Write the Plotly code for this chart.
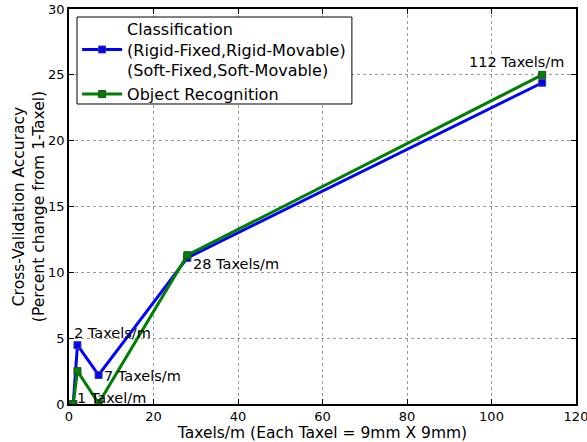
import plotly.graph_objects as go

# Sensor density (taxels per metre) and accuracy change for each task
taxels = [1, 2, 7, 28, 112]
classification = [0.0, 4.47, 2.2, 11.1, 24.4]
recognition = [0.0, 2.5, 0.05, 11.3, 25.0]
point_labels = ["1 Taxel/m", "2 Taxels/m", "7 Taxels/m", "28 Taxels/m", "112 Taxels/m"]

x_ticks = [0, 20, 40, 60, 80, 100, 120]
y_ticks = [0, 5, 10, 15, 20, 25, 30]

font = "DejaVu Sans, sans-serif"

fig = go.Figure()
fig.add_trace(go.Scatter(
    x=taxels, y=classification, mode="lines+markers",
    name="Classification<br>(Rigid-Fixed,Rigid-Movable)<br>(Soft-Fixed,Soft-Movable)",
    line=dict(color="#0000ff", width=3),
    marker=dict(symbol="square", size=7, color="#0000ff",
                line=dict(color="#3f3f7f", width=1)),
))
fig.add_trace(go.Scatter(
    x=taxels, y=recognition, mode="lines+markers",
    name="Object Recognition",
    line=dict(color="#007f00", width=3),
    marker=dict(symbol="square", size=7, color="#007f00",
                line=dict(color="#1f4f1f", width=1)),
))

# Text labels placed next to the data points
offsets = [
    dict(xanchor="left", yanchor="bottom", xshift=2, yshift=-4, y=recognition[0]),
    dict(xanchor="left", yanchor="bottom", xshift=-5, yshift=2, y=classification[1]),
    dict(xanchor="left", yanchor="middle", xshift=3, yshift=-1, y=classification[2]),
    dict(xanchor="left", yanchor="top", xshift=4, yshift=1, y=recognition[3]),
    dict(xanchor="left", yanchor="bottom", xshift=-75, yshift=3, y=recognition[4]),
]
for xv, label, off in zip(taxels, point_labels, offsets):
    fig.add_annotation(x=xv, text=label, showarrow=False,
                       font=dict(family=font, size=14.5, color="black"), **off)

axis_common = dict(
    showline=True, linecolor="black", linewidth=1.5, mirror="ticks",
    ticks="inside", ticklen=5, tickcolor="black",
    showgrid=True, gridcolor="#9a9a9a", griddash="dot", gridwidth=1,
    zeroline=False, tickfont=dict(family=font, size=13, color="black"),
    automargin=False, ticklabeloverflow="allow",
)
fig.update_xaxes(range=[0, 120], tickvals=x_ticks,
                 title=dict(text="Taxels/m (Each Taxel = 9mm X 9mm)",
                            font=dict(family=font, size=15.5, color="black"),
                            standoff=0),
                 **axis_common)
fig.update_yaxes(range=[0, 30], tickvals=y_ticks,
                 title=dict(text="Cross-Validation Accuracy<br>(Percent change from 1-Taxel)",
                            font=dict(family=font, size=15.5, color="black"),
                            standoff=0),
                 **axis_common)

# Legend frame drawn as a box so the entries can sit snugly inside it
fig.add_shape(type="rect", xref="paper", yref="paper",
              x0=0.0158, x1=0.558, y0=0.7595, y1=0.9797,
              line=dict(color="black", width=1), fillcolor="white", layer="above")

fig.update_layout(
    width=587, height=442,
    margin=dict(l=69, r=11, t=9, b=38),
    plot_bgcolor="white", paper_bgcolor="white",
    font=dict(family=font, color="black"),
    legend=dict(x=0.016, y=0.993, xanchor="left", yanchor="top",
                bgcolor="rgba(255,255,255,0)", borderwidth=0,
                font=dict(family=font, size=16, color="black"),
                tracegroupgap=0, itemwidth=40),
    showlegend=True,
)

fig.write_html("out.html")
